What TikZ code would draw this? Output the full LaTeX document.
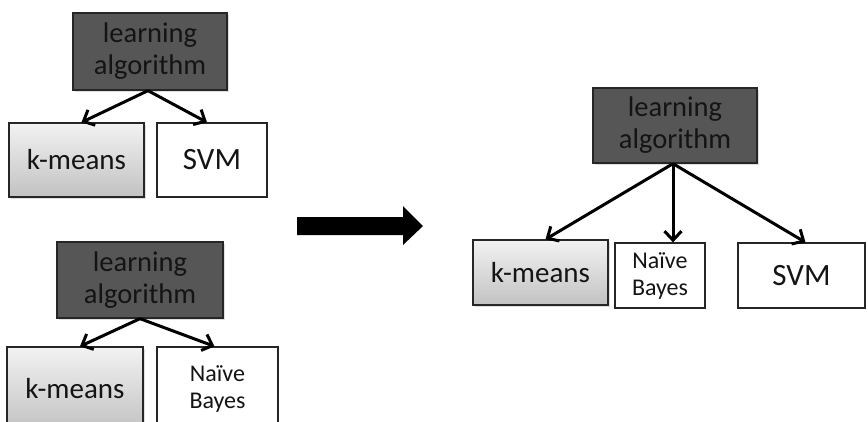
\documentclass[tikz,border=0pt]{standalone}
\usepackage{fontspec}
\setmainfont{Carlito}
\usetikzlibrary{arrows.meta,calc,shadows}

\definecolor{boxdark}{HTML}{565656}
\definecolor{boxedge}{HTML}{262626}
\definecolor{textdark}{HTML}{141414}
\definecolor{gradtop}{HTML}{F2F2F2}
\definecolor{gradbot}{HTML}{C2C2C2}

\tikzset{
  basebox/.style={draw=boxedge, line width=1.3pt, text=textdark, align=center,
    inner sep=0pt, anchor=center},
  algbox/.style={basebox, fill=boxdark,
    drop shadow={opacity=0.25, shadow xshift=1.5pt, shadow yshift=-2pt},
    font=\fontsize{28.5}{32}\selectfont},
  kmbox/.style={basebox, top color=gradtop, bottom color=gradbot,
    drop shadow={opacity=0.25, shadow xshift=1.5pt, shadow yshift=-2pt},
    font=\fontsize{29}{33}\selectfont},
  plainbox/.style={basebox, fill=white},
  svmtext/.style={font=\fontsize{31}{35}\selectfont},
  nbtext/.style={font=\fontsize{24}{27}\selectfont},
  link/.style={draw=black, line width=3pt,
    -{Straight Barb[length=9pt,width=17pt,line width=3pt]}},
}

\begin{document}
\begin{tikzpicture}[x=1pt,y=-1pt]
\useasboundingbox (0,0) rectangle (868,421);

% first pair: learning algorithm -> k-means, SVM
\node[algbox, minimum width=154pt, minimum height=77pt] (la1) at (150,51.5) {learning\\algorithm};
\node[kmbox, minimum width=135pt, minimum height=74pt] (km1) at (76.5,160) {k-means};
\node[plainbox, svmtext, minimum width=110pt, minimum height=74pt] (svm1) at (212,160) {SVM};
\draw[link] ($(la1.south)+(-2,0)$) -- ($(km1.north)+(5,0)$);
\draw[link] ($(la1.south)+(-2,0)$) -- ($(svm1.north)+(-5,0)$);

% second pair: learning algorithm -> k-means, Naive Bayes
\node[algbox, minimum width=166pt, minimum height=76pt] (la2) at (140,280) {learning\\algorithm};
\node[kmbox, minimum width=136pt, minimum height=84pt] (km2) at (75,389) {k-means};
\node[plainbox, nbtext, minimum width=121pt, minimum height=84pt] (nb2) at (217.5,389) {Naïve\\Bayes};
\draw[link] (la2.south) -- ($(km2.north)+(5,0)$);
\draw[link] (la2.south) -- ($(nb2.north)+(-3,0)$);

% combined result
\node[algbox, minimum width=164pt, minimum height=75pt] (la3) at (675,125.5) {learning\\algorithm};
\node[kmbox, minimum width=135pt, minimum height=65pt] (km3) at (540.5,272.5) {k-means};
\node[plainbox, nbtext, minimum width=90pt, minimum height=65pt] (nb3) at (660,275.5) {Naïve\\Bayes};
\node[plainbox, svmtext, minimum width=127pt, minimum height=65pt] (svm3) at (801.5,275.5) {SVM};
\draw[link] ($(la3.south)+(-2,0)$) -- ($(km3.north)+(5,0)$);
\draw[link] ($(la3.south)+(-2,0)$) -- ($(nb3.north)+(13,0)$);
\draw[link] ($(la3.south)+(-2,0)$) -- ($(svm3.north)+(4,0)$);

% block arrow between the two sides
\fill[black] (297,217) -- (403,217) -- (403,206) -- (423,226) -- (403,245)
  -- (403,235) -- (297,235) -- cycle;
\end{tikzpicture}
\end{document}
